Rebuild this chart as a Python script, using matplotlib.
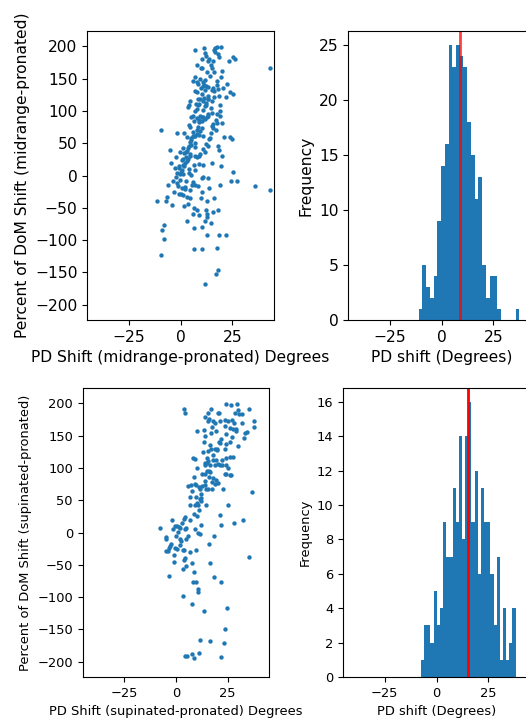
import matplotlib
matplotlib.use('Agg')
import matplotlib.pyplot as plt
import numpy as np

# ── data ──────────────────────────────────────────────────────────────────
# top row: midrange - pronated
mid_x = [
    7.0, 11.3, 16.2, 16.8, 17.5, 19.4, 16.5,
    12.1, 10.4, 13.9, 18.3, 18.6, 13.4, 15.9, 23.5, 25.2, 26.1,
    8.1, 9.7, 10.2, 14.7, 15.0, 19.9, 43.0,
    7.0, 9.4, 11.8, 6.1, 8.6, 10.7, 11.3, 13.4, 17.8, 20.4, 14.2, 17.5, 12.3, 9.7, 15.9,
    7.0, 8.1, 11.8, 15.0, 16.3, 18.3, 10.2, 13.4, 16.2, 21.8, 25.2, 11.3, 13.1, 8.6,
    4.5, 3.7, 4.0, 7.4, 9.1, 11.8, 12.3, 7.0, 7.8, 15.0, 6.1, 9.4,
    11.0, 12.6, 13.4, 19.1, 7.8, 6.6, 8.8, 10.2, 15.9, 17.5, 19.9, 15.4, 4.5, 8.6, 10.2, -9.2,
    -1.9, 1.8, 6.1, 7.8, 9.4, 7.0, 9.1, 2.9, 5.0, 6.1, 23.9, 24.8, 4.5,
    5.3, 3.7, -5.2, 13.4, 18.3, 18.6, 11.8, 2.9, 4.5, 1.6, -2.3, 7.0, 9.1, 2.6, 3.7, 0.5, -4.7, 2.1,
    1.0, -0.6, 1.6, 0.5, 7.0, 10.7, 19.7, 25.2, -1.9, -0.3, 1.3, 11.0, 10.2, 13.4, -3.6, -1.6,
    -0.3, 6.1, 19.1, 24.4, 27.5, 36.1, 43.0,
    -1.1, 0.5, 2.4, 7.0, 8.6, 4.5, -0.6, -6.3, 1.0, 2.9, 9.9, 12.6, 16.3, -6.8, -11.3, -3.9, 1.6, 3.7,
    6.6, 8.1, 12.3, 12.9, 15.5, 18.1, 9.1, 12.6, 11.8, 14.7, -7.9, -8.7, 6.5, 10.4,
    -7.9, 12.6, 18.8, 21.8, 6.6, 10.2, 17.5, -9.5, 18.1, 17.3, 11.8,
    -2.1, 2.7, 0.4, 4.9, -0.8, 4.1, 1.2, 6.3, 2.8, 7.9, 3.9, 9.2, 5.1, 10.8, 6.4, 12.5, 8.2, 13.9,
    9.0, 14.6, 10.3, 15.7, 11.1, 16.9, 12.2, 17.8, 13.3, 14.9, 18.6, 11.0, 13.4, 8.4, 10.7, 4.3,
    6.9, 1.1, 4.8, -0.4, 3.3, -2.8, 2.1, 0.3, 5.4, 3.9, 9.1, 7.2, 14.1, 11.6, 19.2, 15.4, 22.3,
    19.6, 12.7, 9.3,
    -3.0, 4.8, 10.5, 15.0, 21.0, 8.0, 16.0, 12.0, 19.0, 24.0, -6.0, 6.0, 3.0, 14.0, 20.0, 17.0,
    5.0, 11.0,
]
mid_y = [
    194, 197, 194, 197, 199, 199, 192,
    185, 181, 181, 188, 184, 177, 177, 177, 183, 180,
    171, 167, 166, 171, 167, 162, 167,
    152, 150, 148, 146, 142, 145, 140, 137, 147, 135, 155, 140, 138, 136, 135,
    131, 130, 132, 133, 131, 134, 127, 124, 122, 121, 127, 120, 119, 118,
    115, 106, 110, 111, 111, 108, 113, 100, 103, 97, 93, 93,
    90, 91, 92, 92, 89, 84, 86, 84, 80, 81, 82, 77, 75, 75, 73, 71,
    66, 66, 67, 65, 69, 62, 63, 60, 58, 61, 59, 56, 52,
    47, 42, 39, 45, 45, 40, 36, 38, 33, 35, 28, 30, 31, 29, 25, 24, 19, 20,
    17, 12, 14, 8, 8, 16, 15, 6, 4, 2, 3, -3, -4, -4, -9, -11,
    -7, -10, -14, -9, -9, -17, -23,
    -17, -19, -18, -14, -17, -22, -29, -34, -30, -33, -35, -40, -35, -40, -40, -46, -48, -44,
    -51, -54, -54, -59, -57, -53, -62, -64, -70, -73, -76, -84, -82, -80,
    -98, -92, -92, -92, -114, -114, -113, -124, -146, -153, -168,
    -2, -8, 6, 1, 14, 10, 25, 17, 36, 28, 45, 33, 55, 41, 62, 49, 71, 56,
    83, 66, 90, 74, 101, 86, 109, 95, 118, 104, 124, 138, 96, 110, 62, 79,
    50, 43, 31, 37, 22, 12, -21, -28, -14, 4, 18, 44, 58, 88, 100, 116, 142,
    153, 160, 119,
    -25, -35, -25, 20, 60, 145, 160, 190, 110, 130, -15, -60, -70, -20, 30, 70,
    90, 115,
]

# bottom row: supinated - pronated
sup_x = [
    24.3, 26.7, 29.4, 35.1, 3.7, 4.5, 15.3, 17.1, 20.3, 28.4, 30.4, 31.8,
    14.2, 15.7, 16.0, 17.9, 18.8, 21.1, 23.5, 25.1, 27.2, 37.9, 37.5, 17.6, 19.6, 23.5, 25.9,
    27.5, 29.1, 10.4, 13.4, 31.8, 33.5, 34.2,
    13.9, 24.3, 29.1, 33.1, 27.0, 13.4, 20.8, 21.1, 24.3, 30.0, 16.3, 17.1, 18.8, 23.8, 15.5, 19.8,
    8.3, 9.4, 15.2, 15.5, 15.0, 17.9, 19.5, 22.4, 25.9, 27.5, 13.9, 13.9, 16.6, 18.7, 20.3, 21.1,
    24.3, 25.1, 22.4, 15.0, 16.3, 12.8, 13.9, 23.5, 24.3, 25.9, 26.7,
    8.6, 16.0, 17.9, 19.2, 17.4, 20.3, 5.9, 7.5, 9.1, 9.9, 11.2, 12.8, 13.9, 14.7, 15.7, 17.6,
    22.7, 11.5, 36.7,
    6.7, 9.6, 11.5, 12.3, 10.2, 9.1, 6.7, 10.9, 14.4, 12.0, 25.2,
    8.8, 10.2, 21.4, 4.3, 4.0, -1.8, 12.3, 22.0, 28.0, 32.4,
    -7.5, -1.6, -0.6, 0.3, 1.3, 1.9, 4.5, 4.8, 0.8, 10.9, 11.8, -5.0, -5.0, 1.9, 2.7, 5.1, 18.5,
    -2.6, -2.9, -3.2, -0.2, 0.3, -4.8, -4.0, 3.4, 4.0, 6.7, 9.9, 16.0, -1.0, 4.0, 4.5, 35.5,
    3.2, 4.8, 7.7, 16.6, -3.2, 8.6, 18.2, 21.9, 8.3, 9.6, 10.9, 10.9, 3.5,
    7.7, 13.4, 24.6, 23.8, 11.8, 16.3, 23.3, 11.2, 8.0, 4.6, 5.4, 8.9, 21.7,
    12.0, 14.0, 16.0, 18.0, 20.0, 22.0, 11.0, 7.0, 6.0, 2.0, 0.0, 9.0, 19.0, 24.0, 26.0, 28.0,
    30.0, 21.0, 17.0, 13.0, 10.0, 8.0, 3.0, -1.0,
]
sup_y = [
    199, 197, 199, 192, 191, 186, 186, 192, 186, 186, 183, 183,
    179, 173, 176, 173, 170, 173, 174, 173, 175, 173, 164, 164, 158, 165, 162,
    160, 161, 157, 159, 170, 155, 156,
    150, 152, 157, 147, 148, 140, 140, 139, 137, 134, 135, 129, 129, 129, 127, 128,
    116, 114, 115, 111, 107, 113, 112, 113, 117, 117, 107, 104, 104, 104, 106, 104,
    104, 100, 105, 96, 94, 90, 91, 90, 90, 89, 89,
    86, 86, 85, 82, 78, 76, 72, 74, 75, 73, 70, 72, 73, 68, 67, 67,
    67, 67, 63,
    55, 55, 52, 54, 46, 43, 42, 42, 42, 49, 42,
    28, 25, 27, 24, 21, 19, 12, 11, 14, 19,
    7, 6, 10, 10, 9, 7, 6, 7, 1, -1, -2, -7, -10, -10, -13, -10, -6,
    -18, -21, -24, -24, -26, -29, -29, -27, -27, -30, -27, -18, -45, -42, -39, -38,
    -57, -52, -48, -48, -68, -62, -69, -77, -77, -77, -88, -92, -99,
    -111, -122, -117, -150, -167, -168, -172, -187, -189, -192, -191, -195, -193,
    60, 80, 95, 120, 130, 145, 35, 20, -5, -20, -5, 5, 75, 115, 140, 170,
    190, 185, 155, 125, 100, 65, 15, -35,
]

# histograms (30 bins each)
mid_bin_range = (-11.0, 43.0)
mid_counts = [1, 5, 3, 2, 4, 9, 14, 16, 25, 23, 25, 24, 23, 18, 15,
              11, 13, 5, 2, 4, 4, 1, 0, 0, 0, 0, 1, 0, 0, 2]
mid_mean = 9.0

sup_bin_range = (-7.5, 38.2)
sup_counts = [1, 3, 3, 2, 5, 3, 4, 9, 7, 7, 11, 9, 14, 8, 14,
              16, 9, 12, 6, 11, 9, 9, 6, 3, 7, 1, 4, 1, 2, 4]
sup_mean = 15.2

x_ticks = [-25, 0, 25]
y_ticks_scatter = [-200, -150, -100, -50, 0, 50, 100, 150, 200]

# ── figure ────────────────────────────────────────────────────────────────
W, H = 526, 721
fig = plt.figure(figsize=(W / 100, H / 100), dpi=100)


def px_axes(left, top, width, height):
    return fig.add_axes([left / W, 1 - (top + height) / H, width / W, height / H])


BLUE = '#1f77b4'


def scatter_panel(ax, xs, ys, xlabel, ylabel, fs):
    ax.scatter(xs, ys, s=10, color=BLUE, linewidths=0)
    ax.set_xlim(-45, 45)
    ax.set_ylim(-224, 224)
    ax.set_xticks(x_ticks)
    ax.set_yticks(y_ticks_scatter)
    ax.tick_params(labelsize=fs)
    ax.set_xlabel(xlabel, fontsize=fs)
    ax.set_ylabel(ylabel, fontsize=fs)


def hist_panel(ax, counts, rng, mean, fs, line_alpha):
    edges = np.linspace(rng[0], rng[1], len(counts) + 1)
    ax.bar(edges[:-1], counts, width=np.diff(edges), align='edge',
           color=BLUE, linewidth=0)
    ax.axvline(mean, color='red', linewidth=2, alpha=line_alpha)
    ax.set_xlim(-45, 45)
    ax.set_ylim(0, max(counts) * 1.05)
    ax.set_xticks(x_ticks)
    ax.tick_params(labelsize=fs)
    ax.set_xlabel('PD shift (Degrees)', fontsize=fs)
    ax.set_ylabel('Frequency', fontsize=fs)


FS_TOP = 11.2
FS_BOT = 9.4

ax1 = px_axes(87.3, 31, 186.4, 289)
scatter_panel(ax1, mid_x, mid_y, 'PD Shift (midrange-pronated) Degrees',
              'Percent of DoM Shift (midrange-pronated)', FS_TOP)

ax2 = px_axes(348.3, 31, 186.4, 289)
hist_panel(ax2, mid_counts, mid_bin_range, mid_mean, FS_TOP, 0.75)
ax2.set_ylim(0, 26.25)

ax3 = px_axes(82.7, 388, 186.4, 289)
scatter_panel(ax3, sup_x, sup_y, 'PD Shift (supinated-pronated) Degrees',
              'Percent of DoM Shift (supinated-pronated)', FS_BOT)

ax4 = px_axes(343.3, 388, 186.4, 289)
hist_panel(ax4, sup_counts, sup_bin_range, sup_mean, FS_BOT, 1.0)
ax4.set_yticks(range(0, 17, 2))

fig.savefig('out.png', dpi=100)
